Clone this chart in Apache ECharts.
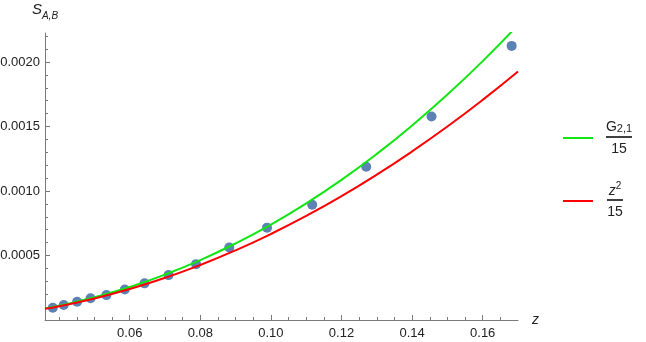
<!DOCTYPE html>
<html>
<head>
<meta charset="utf-8">
<script src="https://cdn.jsdelivr.net/npm/echarts@6/dist/echarts.min.js"></script>
<style>
html,body{margin:0;padding:0;background:#fff;}
#chart{width:646px;height:342px;}
</style>
</head>
<body>
<div id="chart"></div>
<script>
// data points (z, S_{A,B})
const pointZ = [0.0382, 0.0413, 0.0451, 0.0489, 0.0534, 0.0586, 0.0642, 0.0710, 0.0788, 0.0882, 0.0989, 0.1117, 0.1270, 0.1455, 0.1682];
const pointS = [0.000095, 0.000116, 0.000142, 0.000168, 0.000193, 0.000237, 0.000284, 0.000348, 0.000433, 0.000562, 0.000716, 0.000894, 0.001188, 0.001577, 0.002125];

// curve samples
const curveZ = [0.036, 0.04, 0.05, 0.06, 0.07, 0.08, 0.09, 0.10, 0.11, 0.12, 0.13, 0.14, 0.15, 0.16, 0.17];
const greenValues = [0.0000898, 0.0001114, 0.0001758, 0.0002558, 0.0003518, 0.0004642, 0.0005935, 0.00074, 0.0009043, 0.0010867, 0.0012878, 0.0015079, 0.0017475, 0.0020071, 0.002287];
const redValues = [0.0000864, 0.0001067, 0.0001667, 0.00024, 0.0003267, 0.0004267, 0.00054, 0.0006667, 0.0008067, 0.00096, 0.0011267, 0.0013067, 0.0015, 0.0017067, 0.0019267];

// ticks
const xMajorTicks = [0.06, 0.08, 0.10, 0.12, 0.14, 0.16];
const xMinorTicks = [0.04, 0.045, 0.05, 0.055, 0.065, 0.07, 0.075, 0.085, 0.09, 0.095, 0.105, 0.11, 0.115, 0.125, 0.13, 0.135, 0.145, 0.15, 0.155, 0.165];
const yMajorTicks = [0.0005, 0.0010, 0.0015, 0.0020];
const yMinorTicks = [0.0001, 0.0002, 0.0003, 0.0004, 0.0006, 0.0007, 0.0008, 0.0009, 0.0011, 0.0012, 0.0013, 0.0014, 0.0016, 0.0017, 0.0018, 0.0019, 0.0021, 0.0022];

const X_MIN = 0.036, X_MAX = 0.17, Y_MIN = 0, Y_MAX = 0.002225;
const FONT = 'Liberation Sans, Arial, sans-serif';
const AXIS_COLOR = '#7a7a7a';
const TEXT_COLOR = '#222';

const chart = echarts.init(document.getElementById('chart'), null, {renderer: 'canvas'});

function pairs(xs, ys) { return xs.map((x, i) => [x, ys[i]]); }

const option = {
  animation: false,
  backgroundColor: '#fff',
  grid: {left: 45, right: 128, top: 33, bottom: 22, containLabel: false, outerBoundsMode: 'none'},
  xAxis: [
    {
      type: 'value', min: X_MIN, max: X_MAX,
      splitLine: {show: false},
      axisLine: {show: true, onZero: false, lineStyle: {color: AXIS_COLOR, width: 1}},
      axisTick: {show: true, inside: true, length: 5, customValues: xMajorTicks, lineStyle: {color: AXIS_COLOR}},
      axisLabel: {show: true, margin: 7, customValues: xMajorTicks, color: TEXT_COLOR, fontFamily: FONT, fontSize: 13,
        formatter: v => v.toFixed(2)},
      name: 'z', nameLocation: 'end', nameGap: 14,
      nameTextStyle: {fontStyle: 'italic', fontFamily: FONT, fontSize: 14, color: TEXT_COLOR, verticalAlign: 'middle', padding: [6, 0, 0, 0]}
    },
    {
      type: 'value', min: X_MIN, max: X_MAX, position: 'bottom',
      splitLine: {show: false},
      axisLine: {show: false, onZero: false},
      axisTick: {show: true, inside: true, length: 3, customValues: xMinorTicks, lineStyle: {color: AXIS_COLOR}},
      axisLabel: {show: false}
    }
  ],
  yAxis: [
    {
      type: 'value', min: Y_MIN, max: Y_MAX,
      splitLine: {show: false},
      axisLine: {show: true, onZero: false, lineStyle: {color: AXIS_COLOR, width: 1}},
      axisTick: {show: true, inside: true, length: 5, customValues: yMajorTicks, lineStyle: {color: AXIS_COLOR}},
      axisLabel: {show: true, margin: 5, customValues: yMajorTicks, color: TEXT_COLOR, fontFamily: FONT, fontSize: 13,
        formatter: v => v.toFixed(4)},
      name: '{s|S}{sub|A,B}', nameLocation: 'end', nameGap: 12,
      nameTextStyle: {
        align: 'center', color: TEXT_COLOR, fontFamily: FONT,
        rich: {
          s: {fontStyle: 'italic', fontSize: 15, fontFamily: FONT, color: TEXT_COLOR, lineHeight: 19, verticalAlign: 'bottom', padding: [0, 0, 4, 0]},
          sub: {fontStyle: 'italic', fontSize: 10, fontFamily: FONT, color: TEXT_COLOR, lineHeight: 19, verticalAlign: 'bottom', padding: [0, 0, 0, 0]}
        }
      }
    },
    {
      type: 'value', min: Y_MIN, max: Y_MAX, position: 'left',
      splitLine: {show: false},
      axisLine: {show: false, onZero: false},
      axisTick: {show: true, inside: true, length: 3, customValues: yMinorTicks, lineStyle: {color: AXIS_COLOR}},
      axisLabel: {show: false}
    }
  ],
  series: [
    {
      type: 'scatter', xAxisIndex: 0, yAxisIndex: 0,
      data: pairs(pointZ, pointS),
      symbol: 'circle', symbolSize: 10,
      itemStyle: {color: '#5e81b5', opacity: 1},
      z: 2
    },
    {
      type: 'line', xAxisIndex: 0, yAxisIndex: 0,
      data: pairs(curveZ, greenValues),
      smooth: true, showSymbol: false, clip: true,
      lineStyle: {color: '#12e612', width: 2},
      z: 3
    },
    {
      type: 'line', xAxisIndex: 0, yAxisIndex: 0,
      data: pairs(curveZ, redValues),
      smooth: true, showSymbol: false, clip: true,
      lineStyle: {color: '#ff0000', width: 2},
      z: 4
    }
  ],
  graphic: [
    {type: 'line', shape: {x1: 563, y1: 138, x2: 593, y2: 138}, style: {stroke: '#12e612', lineWidth: 2}},
    {type: 'text', x: 619, y: 126, style: {
      text: '{g|G}{sub|2,1}', align: 'center', verticalAlign: 'middle', fill: TEXT_COLOR,
      rich: {
        g: {fontSize: 14, fontFamily: FONT, fill: TEXT_COLOR, lineHeight: 17, verticalAlign: 'bottom'},
        sub: {fontSize: 11, fontFamily: FONT, fill: TEXT_COLOR, lineHeight: 17, verticalAlign: 'bottom', padding: [4, 0, 0, 0]}
      }}},
    {type: 'line', shape: {x1: 606, y1: 137, x2: 632, y2: 137}, style: {stroke: '#000', lineWidth: 1.5}},
    {type: 'text', x: 619, y: 149, style: {text: '15', align: 'center', verticalAlign: 'middle', fill: TEXT_COLOR, fontSize: 14, fontFamily: FONT}},

    {type: 'line', shape: {x1: 563, y1: 201, x2: 593, y2: 201}, style: {stroke: '#ff0000', lineWidth: 2}},
    {type: 'text', x: 615, y: 190, style: {
      text: '{z|z}{sup|2}', align: 'center', verticalAlign: 'middle', fill: TEXT_COLOR,
      rich: {
        z: {fontSize: 14, fontFamily: FONT, fontStyle: 'italic', fill: TEXT_COLOR, lineHeight: 17, verticalAlign: 'bottom'},
        sup: {fontSize: 10, fontFamily: FONT, fill: TEXT_COLOR, lineHeight: 17, verticalAlign: 'top'}
      }}},
    {type: 'line', shape: {x1: 607, y1: 200, x2: 623, y2: 200}, style: {stroke: '#000', lineWidth: 1.5}},
    {type: 'text', x: 615, y: 212, style: {text: '15', align: 'center', verticalAlign: 'middle', fill: TEXT_COLOR, fontSize: 14, fontFamily: FONT}}
  ]
};
chart.setOption(option);
</script>
</body>
</html>
